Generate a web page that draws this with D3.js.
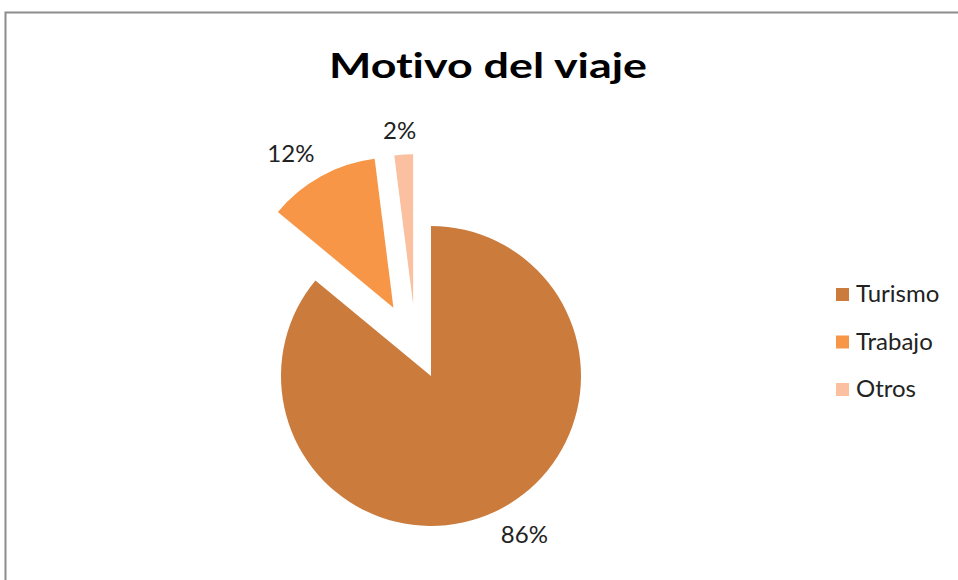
<!DOCTYPE html>
<html><head><meta charset="utf-8">
<script src="https://cdn.jsdelivr.net/npm/d3@7"></script>
<style>body{margin:0;background:#fff;} svg{display:block;} text{font-variant-ligatures:none;}</style>
</head><body>
<svg id="chart" width="958" height="580"></svg>
<script>
const categories = ["Turismo", "Trabajo", "Otros"];
const values = [86, 12, 2];
const colors = ["#CB7B3B", "#F79646", "#FAC09F"];
const explodeDist = [0, 78, 74];
const explodeDirDeg = [null, null, -14]; // null = along slice bisector

const svg = d3.select("#chart");
const cx = 431, cy = 376, r = 150;
const FONT = "Lato, 'Open Sans', sans-serif";

// frame
svg.append("rect").attr("x", 5.5).attr("y", 12.5).attr("width", 1000).attr("height", 700)
  .attr("fill", "none").attr("stroke", "#8c8c8c").attr("stroke-width", 2);

// title
svg.append("text").attr("x", 488).attr("y", 78).attr("text-anchor", "middle")
  .attr("font-family", FONT).attr("font-weight", "bold").attr("font-size", 34)
  .attr("textLength", 318).attr("lengthAdjust", "spacingAndGlyphs")
  .attr("fill", "#000").text("Motivo del viaje");

const data = categories.map((c, i) => ({ cat: c, value: values[i], i }));
const pie = d3.pie().value(d => d.value).sort(null);
const arcs = pie(data);
const arc = d3.arc().innerRadius(0).outerRadius(r);

const g = svg.append("g").attr("transform", `translate(${cx},${cy})`);

arcs.forEach(a => {
  const mid = (a.startAngle + a.endAngle) / 2;
  const dir = explodeDirDeg[a.index] == null ? mid : explodeDirDeg[a.index] * Math.PI / 180;
  const dist = explodeDist[a.index];
  a.ox = dist * Math.sin(dir);
  a.oy = -dist * Math.cos(dir);
  a.mid = mid;
});

g.selectAll("path.slice").data(arcs).join("path").attr("class", "slice")
  .attr("transform", d => `translate(${d.ox},${d.oy})`)
  .attr("d", arc).attr("fill", d => colors[d.index]);

// labels
const total = d3.sum(values);
const fmt = d3.format(".0%");
const lab = g.selectAll("text.lab").data(arcs).join("text").attr("class", "lab")
  .attr("font-family", FONT).attr("font-size", 24).attr("fill", "#222")
  .attr("text-anchor", "middle")
  .text(d => fmt(d.data.value / total));
lab.each(function(d) {
  const bb = this.getBBox();
  const w = bb.width, h = 24;
  const s = Math.sin(d.mid), c = -Math.cos(d.mid);
  const px = d.ox + (r + 14) * s, py = d.oy + (r + 12) * c;
  const lx = px + Math.sign(s) * w / 2 * Math.min(1, Math.abs(s) * 3);
  const ly = py + Math.sign(c) * h / 2;
  d3.select(this).attr("x", lx).attr("y", ly + 8);
});

// legend
const lg = svg.append("g").attr("transform", "translate(836,288)");
const items = lg.selectAll("g").data(categories).join("g")
  .attr("transform", (d, i) => `translate(0,${i * 47.5})`);
items.append("rect").attr("width", 13).attr("height", 13).attr("fill", (d, i) => colors[i]);
items.append("text").attr("x", 20).attr("y", 14).attr("font-family", FONT)
  .attr("font-size", 24).attr("fill", "#222").text(d => d);
</script>
</body></html>
